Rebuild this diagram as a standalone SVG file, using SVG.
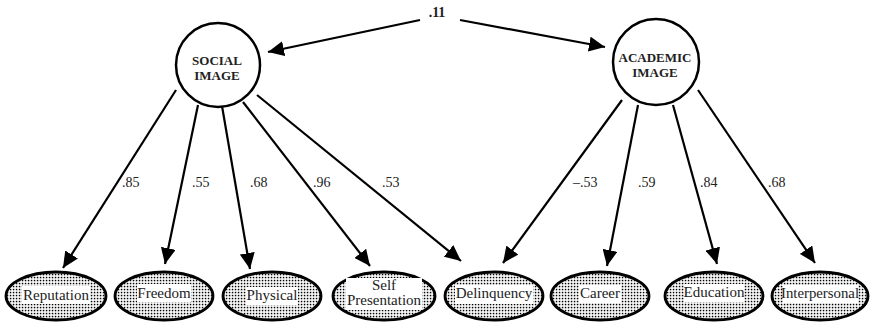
<svg xmlns="http://www.w3.org/2000/svg" width="870" height="324" viewBox="0 0 870 324">
<style>
.lat{fill:#fff;stroke:#000;stroke-width:2.5}
.obs{fill:url(#dots);stroke:#000;stroke-width:2.8}
.box{fill:#fff}
.c{stroke:#000;stroke-width:2.2;fill:none;marker-end:url(#ah)}
</style>
<defs>
<pattern id="dots" width="3" height="3" patternUnits="userSpaceOnUse">
<rect width="3" height="3" fill="#fff"/>
<rect x="0.8" y="0.8" width="1.5" height="1.5" fill="#000"/>
</pattern>
<marker id="ah" markerUnits="userSpaceOnUse" markerWidth="18" markerHeight="15" refX="16" refY="7.5" orient="auto">
<path d="M0,0 L16,7.5 L0,15 Z" fill="#000"/>
</marker>
</defs>
<g id="connectors">
<line class="c" x1="420" y1="20" x2="268" y2="52"/>
<line class="c" x1="460" y1="20" x2="605" y2="47"/>
<line class="c" x1="176" y1="90" x2="63" y2="268"/>
<line class="c" x1="198" y1="105" x2="165" y2="264"/>
<line class="c" x1="222" y1="106" x2="250" y2="269"/>
<line class="c" x1="243" y1="102" x2="370" y2="266"/>
<line class="c" x1="257" y1="95" x2="461" y2="261"/>
<line class="c" x1="622" y1="100" x2="503" y2="263"/>
<line class="c" x1="638" y1="105" x2="607" y2="266"/>
<line class="c" x1="673" y1="105" x2="717" y2="264"/>
<line class="c" x1="698" y1="90" x2="815" y2="263"/>
<g font-family="Liberation Serif" font-size="14" fill="#222">
<text x="437" y="17" font-weight="bold" text-anchor="middle">.11</text>
<text x="122" y="187">.85</text>
<text x="192" y="187">.55</text>
<text x="250" y="187">.68</text>
<text x="313" y="187">.96</text>
<text x="382" y="187">.53</text>
<text x="573" y="187">–.53</text>
<text x="638" y="187">.59</text>
<text x="700" y="187">.84</text>
<text x="768" y="187">.68</text>
</g>
</g>
<g id="social" font-family="Liberation Serif" font-size="13" font-weight="bold" text-anchor="middle" fill="#222">
<circle class="lat" cx="218" cy="65" r="42"/>
<text x="217" y="65">SOCIAL</text>
<text x="217" y="80">IMAGE</text>
</g>
<g id="academic" font-family="Liberation Serif" font-size="13" font-weight="bold" text-anchor="middle" fill="#222">
<circle class="lat" cx="656" cy="62" r="43"/>
<text x="655" y="62">ACADEMIC</text>
<text x="655" y="77">IMAGE</text>
</g>
<g font-family="Liberation Serif" font-size="15" text-anchor="middle" fill="#222">
<g id="reputation">
<ellipse class="obs" cx="56" cy="296" rx="50" ry="24"/>
<rect class="box" x="22" y="286" width="68" height="18"/>
<text x="56" y="300">Reputation</text>
</g>
<g id="freedom">
<ellipse class="obs" cx="164" cy="296" rx="49" ry="24"/>
<rect class="box" x="137" y="284" width="54" height="18"/>
<text x="164" y="298">Freedom</text>
</g>
<g id="physical">
<ellipse class="obs" cx="272" cy="296" rx="49" ry="24"/>
<rect class="box" x="246" y="287" width="52" height="18"/>
<text x="272" y="300">Physical</text>
</g>
<g id="selfpresentation">
<ellipse class="obs" cx="384" cy="296" rx="51" ry="24"/>
<rect class="box" x="346" y="278" width="76" height="32"/>
<text x="384" y="290">Self</text>
<text x="384" y="305">Presentation</text>
</g>
<g id="delinquency">
<ellipse class="obs" cx="494" cy="296" rx="49" ry="24"/>
<rect class="box" x="455" y="285" width="78" height="19"/>
<text x="494" y="298">Delinquency</text>
</g>
<g id="career">
<ellipse class="obs" cx="600" cy="296" rx="49" ry="24"/>
<rect class="box" x="579" y="285" width="42" height="18"/>
<text x="600" y="298">Career</text>
</g>
<g id="education">
<ellipse class="obs" cx="714" cy="296" rx="49" ry="24"/>
<rect class="box" x="684" y="284" width="60" height="18"/>
<text x="714" y="297">Education</text>
</g>
<g id="interpersonal">
<ellipse class="obs" cx="820" cy="296" rx="48" ry="24"/>
<rect class="box" x="783" y="285" width="75" height="18"/>
<text x="820" y="298" textLength="78" lengthAdjust="spacingAndGlyphs">Interpersonal</text>
</g>
</g>
</svg>
